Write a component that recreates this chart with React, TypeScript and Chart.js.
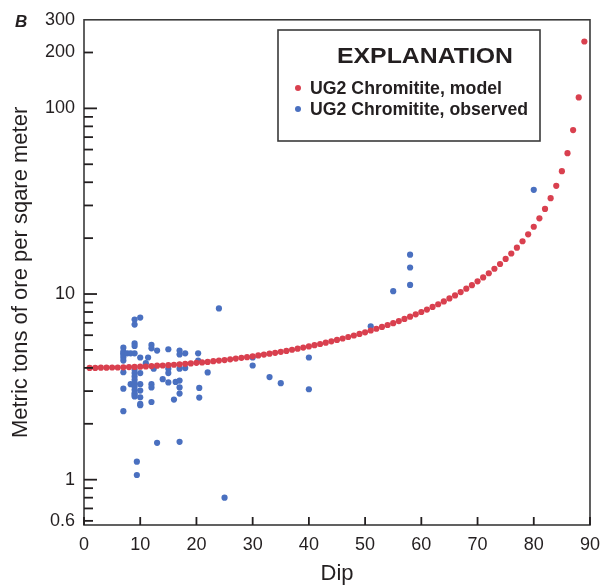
import { useEffect, useRef } from "react";
import { Chart, registerables } from "chart.js";

Chart.register(...registerables);

// Modelled ore tonnage for each whole degree of dip
const modelDip = [
  1, 2, 3, 4, 5, 6, 7, 8, 9, 10, 11, 12, 13, 14, 15, 16, 17, 18, 19, 20,
  21, 22, 23, 24, 25, 26, 27, 28, 29, 30, 31, 32, 33, 34, 35, 36, 37, 38, 39, 40,
  41, 42, 43, 44, 45, 46, 47, 48, 49, 50, 51, 52, 53, 54, 55, 56, 57, 58, 59, 60,
  61, 62, 63, 64, 65, 66, 67, 68, 69, 70, 71, 72, 73, 74, 75, 76, 77, 78, 79, 80,
  81, 82, 83, 84, 85, 86, 87, 88, 89,
];
const modelTons = [
  4.0, 4.0, 4.01, 4.01, 4.02, 4.02, 4.03, 4.04, 4.05, 4.06, 4.07, 4.09, 4.11, 4.12, 4.14, 4.16, 4.18, 4.21, 4.23, 4.26,
  4.28, 4.31, 4.35, 4.38, 4.41, 4.45, 4.49, 4.53, 4.57, 4.62, 4.67, 4.72, 4.77, 4.82, 4.88, 4.94, 5.01, 5.08, 5.15, 5.22,
  5.3, 5.38, 5.47, 5.56, 5.66, 5.76, 5.87, 5.98, 6.1, 6.22, 6.36, 6.5, 6.65, 6.81, 6.97, 7.15, 7.34, 7.55, 7.77, 8.0,
  8.25, 8.52, 8.81, 9.12, 9.47, 9.83, 10.24, 10.68, 11.16, 11.7, 12.29, 12.94, 13.68, 14.51, 15.45, 16.53, 17.78, 19.24, 20.96, 23.03,
  25.57, 28.74, 32.82, 38.27, 45.89, 57.34, 76.43, 114.6, 229.2,
];

// Observed ore tonnage
const observedDip = [
  7, 7, 7, 7, 7, 7, 7, 7, 7, 7.7, 8.3, 8.3,
  9, 9, 9, 9, 9, 9, 9, 9, 9, 9, 9, 9, 9, 9, 9, 9.4, 9.4,
  10, 10, 10, 10, 10, 10, 10, 10,
  11, 11.4, 12, 12, 12, 12, 12, 12.4, 13, 13, 14,
  15, 15, 15, 15, 16, 16.3, 17, 17, 17, 17, 17, 17, 17, 18, 18,
  20.3, 20.3, 20.5, 20.5, 22, 24, 25, 30, 30, 33, 35, 40, 40, 51, 55, 58, 58, 58, 80,
];
const observedTons = [
  5.14, 4.9, 4.79, 4.7, 4.55, 4.38, 3.79, 3.09, 2.34, 4.79, 4.79, 3.27,
  7.29, 6.85, 5.42, 5.25, 4.79, 3.91, 3.75, 3.6, 3.45, 3.31, 3.18, 3.05, 2.93, 2.87, 2.81, 1.25, 1.06,
  7.47, 4.55, 3.75, 3.27, 3.02, 2.78, 2.56, 2.52,
  4.24, 4.55, 5.32, 5.1, 3.27, 3.14, 2.62, 3.96, 4.96, 1.58, 3.48,
  5.04, 3.96, 3.75, 3.34, 2.7, 3.36, 4.96, 4.73, 3.96, 3.42, 3.14, 2.91, 1.6, 4.79, 3.99,
  4.79, 4.38, 3.12, 2.77, 3.78, 8.36, 0.8, 4.55, 4.12, 3.57, 3.31, 4.55, 3.07, 6.7, 10.36, 16.3, 13.9, 11.2, 36.4,
];

const xTickValues = [0, 10, 20, 30, 40, 50, 60, 70, 80, 90];
const yTickValues = [0.6, 1, 10, 100, 200, 300];
const yMajorMarks = [1, 10, 100];
const yMinorMarks = [
  0.6, 0.7, 0.8, 0.9, 2, 3, 4, 5, 6, 7, 8, 9, 20, 30, 40, 50, 60, 70, 80, 90, 200,
];

const legendTitle = "EXPLANATION";
const modelLabel = "UG2 Chromitite, model";
const observedLabel = "UG2 Chromitite, observed";

const RED = "#d9404f";
const BLUE = "#4a70c0";
const INK = "#231f20";
const LINE = "#3a3a3a";
const FONT = '"Liberation Sans Narrow", "Liberation Sans", "DejaVu Sans", sans-serif';

// Draws text stretched or narrowed horizontally so it spans the given width
function fitText(ctx: CanvasRenderingContext2D, text: string, x: number, y: number, width: number, align: "left" | "center") {
  const natural = ctx.measureText(text).width;
  const k = width / natural;
  ctx.save();
  ctx.translate(x, y);
  ctx.scale(k, 1);
  ctx.textAlign = align;
  ctx.fillText(text, 0, 0);
  ctx.restore();
}

const framePlugin = {
  id: "frameAndExplanation",
  afterDatasetsDraw(chart: any) {
    const { ctx, chartArea, scales } = chart;
    const { left, right, top, bottom } = chartArea;
    const x = scales.x;
    const y = scales.y;
    ctx.save();
    ctx.strokeStyle = LINE;
    ctx.lineWidth = 1.6;
    ctx.strokeRect(left, top, right - left, bottom - top);

    const seg = (x1: number, y1: number, x2: number, y2: number) => {
      ctx.beginPath();
      ctx.moveTo(x1, y1);
      ctx.lineTo(x2, y2);
      ctx.stroke();
    };
    ctx.strokeStyle = INK;
    ctx.lineWidth = 1.8;
    yMajorMarks.forEach((v) => {
      const py = y.getPixelForValue(v);
      seg(left, py, left + 13, py);
    });
    yMinorMarks.forEach((v) => {
      const py = y.getPixelForValue(v);
      seg(left, py, left + 9, py);
    });
    xTickValues.forEach((v) => {
      const px = x.getPixelForValue(v);
      seg(px, bottom, px, bottom - 8);
    });

    // Explanation box
    const bx = 278, by = 30, bw = 262, bh = 111;
    ctx.fillStyle = "#ffffff";
    ctx.fillRect(bx, by, bw, bh);
    ctx.strokeStyle = LINE;
    ctx.lineWidth = 1.6;
    ctx.strokeRect(bx, by, bw, bh);

    ctx.fillStyle = INK;
    ctx.textBaseline = "alphabetic";
    ctx.font = `bold 22px ${FONT}`;
    fitText(ctx, legendTitle, 425, 63, 176, "center");

    ctx.textBaseline = "middle";
    ctx.font = `bold 19px ${FONT}`;
    const items = [
      { label: modelLabel, color: RED, cy: 88, w: 192 },
      { label: observedLabel, color: BLUE, cy: 109, w: 218 },
    ];
    items.forEach((it) => {
      ctx.fillStyle = it.color;
      ctx.beginPath();
      ctx.arc(298, it.cy, 3, 0, Math.PI * 2);
      ctx.fill();
      ctx.fillStyle = INK;
      fitText(ctx, it.label, 310, it.cy + 1, it.w, "left");
    });

    // Panel letter
    ctx.font = `italic bold 17px ${FONT}`;
    ctx.textBaseline = "alphabetic";
    ctx.textAlign = "left";
    ctx.fillText("B", 15, 27);
    ctx.restore();
  },
};

export default function App() {
  const canvasRef = useRef<HTMLCanvasElement | null>(null);

  useEffect(() => {
    const canvas = canvasRef.current;
    if (!canvas) return;
    const chart = new Chart(canvas, {
      type: "scatter",
      data: {
        datasets: [
          {
            label: modelLabel,
            data: modelDip.map((d, i) => ({ x: d, y: modelTons[i] })),
            backgroundColor: RED,
            borderWidth: 0,
            pointRadius: 3.1,
          },
          {
            label: observedLabel,
            data: observedDip.map((d, i) => ({ x: d, y: observedTons[i] })),
            backgroundColor: BLUE,
            borderWidth: 0,
            pointRadius: 3.1,
          },
        ],
      },
      options: {
        responsive: false,
        animation: false,
        devicePixelRatio: 1,
        layout: { padding: { top: 16, right: 11, left: 0, bottom: 0 } },
        plugins: {
          legend: { display: false },
          tooltip: { enabled: false },
        },
        scales: {
          x: {
            type: "linear",
            min: 0,
            max: 90,
            afterBuildTicks: (scale: any) => {
              scale.ticks = xTickValues.map((v) => ({ value: v }));
            },
            afterFit: (scale: any) => {
              scale.height = 62;
            },
            grid: { display: false, drawTicks: false },
            border: { display: false },
            ticks: {
              color: INK,
              padding: 9,
              maxRotation: 0,
              font: { family: FONT, size: 18 },
            },
            title: {
              display: true,
              text: "Dip",
              color: INK,
              font: { family: FONT, size: 22 },
              padding: { top: 0, bottom: 0 },
            },
          },
          y: {
            type: "logarithmic",
            min: 0.57,
            max: 300,
            afterBuildTicks: (scale: any) => {
              scale.ticks = yTickValues.map((v) => ({ value: v }));
            },
            afterFit: (scale: any) => {
              scale.width = 84;
            },
            grid: { display: false, drawTicks: false },
            border: { display: false },
            ticks: {
              color: INK,
              padding: 9,
              font: { family: FONT, size: 18 },
              callback: (v: any) => String(v),
            },
            title: {
              display: true,
              text: "Metric tons of ore per sqare meter",
              color: INK,
              font: { family: FONT, size: 22 },
              padding: { top: 8, bottom: 0 },
            },
          },
        },
      },
      plugins: [framePlugin],
    });
    return () => chart.destroy();
  }, []);

  return (
    <div style={{ position: "fixed", left: 0, top: 0, width: 609, height: 587, background: "#fff" }}>
      <canvas ref={canvasRef} width={609} height={587} />
    </div>
  );
}
